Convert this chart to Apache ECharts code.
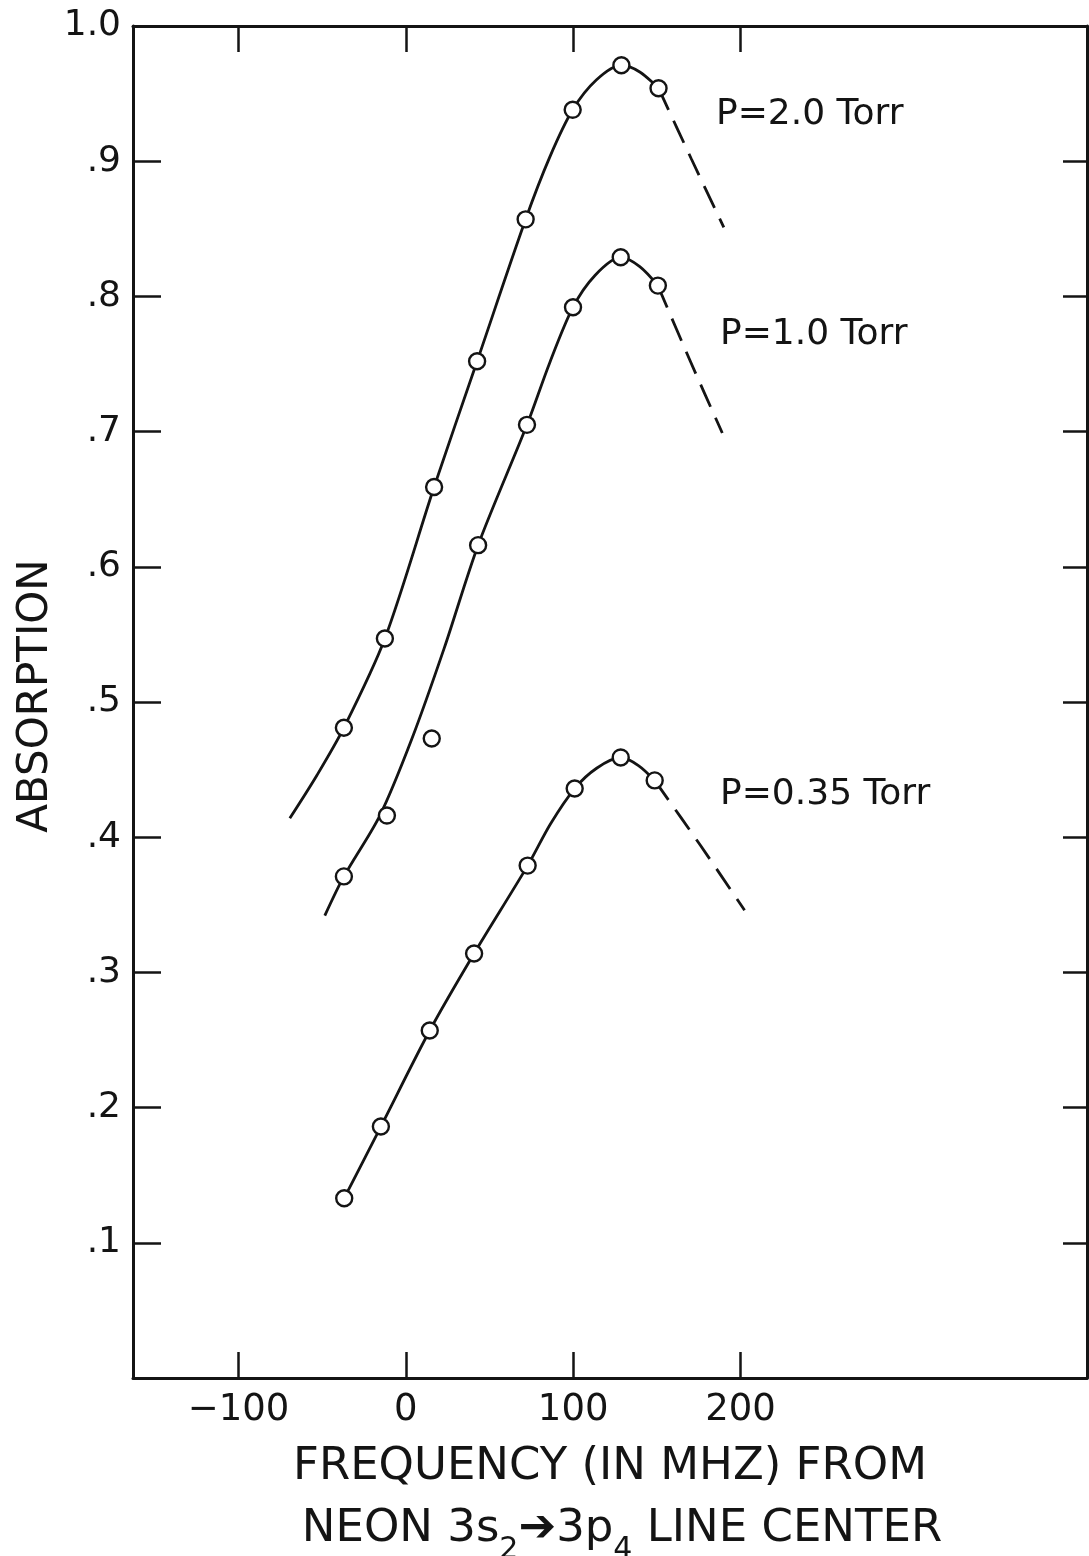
<!DOCTYPE html>
<html><head><meta charset="utf-8">
<script src="https://cdn.jsdelivr.net/npm/echarts@6/dist/echarts.min.js"></script>
<style>html,body{margin:0;padding:0;background:#fff}#c{width:1089px;height:1556px}</style>
</head><body><div id="c"></div>
<script>
// ---- tick values ----
const xTicks = [-100, 0, 100, 200];
const yTicks = [0.1, 0.2, 0.3, 0.4, 0.5, 0.6, 0.7, 0.8, 0.9, 1.0];

// ---- measured points (frequency MHz, absorption) ----
const p20Points = [[-37,0.481],[-12.5,0.547],[16.9,0.659],[42.6,0.752],[71.6,0.857],[99.7,0.938],[128.8,0.971],[151,0.954]];
const p10Points = [[-37,0.371],[-11.3,0.416],[15.5,0.473],[43.2,0.616],[72.4,0.705],[99.9,0.792],[128.4,0.829],[150.6,0.808]];
const p035Points = [[-36.8,0.133],[-14.9,0.186],[14.3,0.257],[40.8,0.314],[72.8,0.379],[100.9,0.436],[128.4,0.459],[148.7,0.442]];

// ---- drawn curves ----
const p20Curve = [[-69.3,0.414],[-53,0.446],[-37,0.481],[-12.5,0.547],[16.9,0.659],[42.6,0.752],[71.6,0.857],[86,0.903],[99.7,0.938],[113.8,0.960],[128.8,0.971],[139.8,0.966],[151,0.954]];
const p20Dash  = [[151,0.954],[170.5,0.902],[190,0.851]];
const p10Curve = [[-48.4,0.342],[-37,0.371],[-15.5,0.416],[3.4,0.472],[23,0.540],[43.2,0.616],[72.4,0.705],[86,0.751],[99.9,0.792],[113,0.8155],[128.4,0.829],[139.8,0.822],[150.6,0.808]];
const p10Dash  = [[150.6,0.808],[170,0.752],[189.1,0.699]];
const p035Curve = [[-36.8,0.133],[-14.9,0.186],[14.3,0.257],[40.8,0.314],[72.8,0.379],[86.5,0.410],[100.9,0.436],[114,0.451],[128.4,0.459],[139,0.453],[148.7,0.442]];
const p035Dash  = [[148.7,0.442],[176,0.394],[202.4,0.346]];

// ---- texts ----
const curveNames = ['P=2.0 Torr', 'P=1.0 Torr', 'P=0.35 Torr'];
const yTitle = 'ABSORPTION';
const xTitle1 = 'FREQUENCY (IN MHZ) FROM';

const FONT = '"DejaVu Sans", "Liberation Sans", sans-serif';
const INK = '#141414';

function yLabel(v) {
  if (Math.abs(v - 1) < 1e-9) return '1.0';
  if (Math.abs(v) < 1e-9) return '';
  return '.' + Math.round(v * 10);
}
function xLabel(v) { return v < 0 ? '\u2212' + Math.abs(v) : String(v); }

const axisLine = { show: true, onZero: false, lineStyle: { color: INK, width: 3 } };
const tickStyle = { color: INK, width: 2.5 };

function curve(data, dashed) {
  return {
    type: 'line', data: data, smooth: 0.3, symbol: 'none', silent: true,
    xAxisIndex: 0, yAxisIndex: 0,
    lineStyle: { color: INK, width: 2.8, type: dashed ? [24, 12] : 'solid' }, z: 2
  };
}
function pts(data) {
  return {
    type: 'scatter', data: data, symbol: 'circle', symbolSize: 16, silent: true,
    xAxisIndex: 0, yAxisIndex: 0,
    itemStyle: { color: '#fff', borderColor: INK, borderWidth: 2.4, opacity: 1 }, z: 3
  };
}

const chart = echarts.init(document.getElementById('c'), null, { renderer: 'canvas' });
chart.setOption({
  animation: false,
  backgroundColor: '#fff',
  grid: { left: 133, right: 2, top: 26, bottom: 178, containLabel: false },
  xAxis: [
    { type: 'value', min: -163, max: 407, position: 'bottom', axisLine: axisLine,
      axisTick: { show: true, inside: true, length: 26, customValues: xTicks, lineStyle: tickStyle },
      axisLabel: { show: true, customValues: xTicks, formatter: xLabel, fontSize: 37, fontFamily: FONT, color: INK, margin: 14 },
      splitLine: { show: false } },
    { type: 'value', min: -163, max: 407, position: 'top', axisLine: axisLine,
      axisTick: { show: true, inside: true, length: 26, customValues: xTicks, lineStyle: tickStyle },
      axisLabel: { show: false }, splitLine: { show: false } }
  ],
  yAxis: [
    { type: 'value', min: 0, max: 1, interval: 0.1, position: 'left', axisLine: axisLine,
      axisTick: { show: true, inside: true, length: 28, lineStyle: tickStyle },
      axisLabel: { show: true, formatter: yLabel, fontSize: 36, fontFamily: FONT, color: INK, margin: 12, showMinLabel: true, showMaxLabel: true },
      splitLine: { show: false } },
    { type: 'value', min: 0, max: 1, interval: 0.1, position: 'right', axisLine: axisLine,
      axisTick: { show: true, inside: true, length: 24, lineStyle: tickStyle },
      axisLabel: { show: false }, splitLine: { show: false } }
  ],
  series: [
    curve(p20Curve, false), curve(p20Dash, true), pts(p20Points),
    curve(p10Curve, false), curve(p10Dash, true), pts(p10Points),
    curve(p035Curve, false), curve(p035Dash, true), pts(p035Points)
  ],
  graphic: [
    { type: 'text', x: 716, y: 115, style: { text: curveNames[0], fontSize: 36, fontFamily: FONT, fill: INK, verticalAlign: 'middle', align: 'left' } },
    { type: 'text', x: 720, y: 335, style: { text: curveNames[1], fontSize: 36, fontFamily: FONT, fill: INK, verticalAlign: 'middle', align: 'left' } },
    { type: 'text', x: 720, y: 795, style: { text: curveNames[2], fontSize: 36, fontFamily: FONT, fill: INK, verticalAlign: 'middle', align: 'left' } },
    { type: 'text', x: 36, y: 696, rotation: Math.PI / 2, style: { text: yTitle, fontSize: 42, fontFamily: FONT, fill: INK, align: 'center', verticalAlign: 'middle' } },
    { type: 'text', x: 610, y: 1467, style: { text: xTitle1, fontSize: 45, fontFamily: FONT, fill: INK, align: 'center', verticalAlign: 'middle' } },
    { type: 'text', x: 622, y: 1530, style: {
        text: '{m|NEON 3s}{s|2}{m|\u2794}{m|3p}{s|4}{m| LINE CENTER}',
        align: 'center', verticalAlign: 'middle', fill: INK,
        rich: {
          m: { fontSize: 45, fontFamily: FONT, color: INK, lineHeight: 46, verticalAlign: 'top' },
          s: { fontSize: 30, fontFamily: FONT, color: INK, lineHeight: 30, verticalAlign: 'top', padding: [28, 0, 0, 0] }
        } } }
  ]
});
</script></body></html>
